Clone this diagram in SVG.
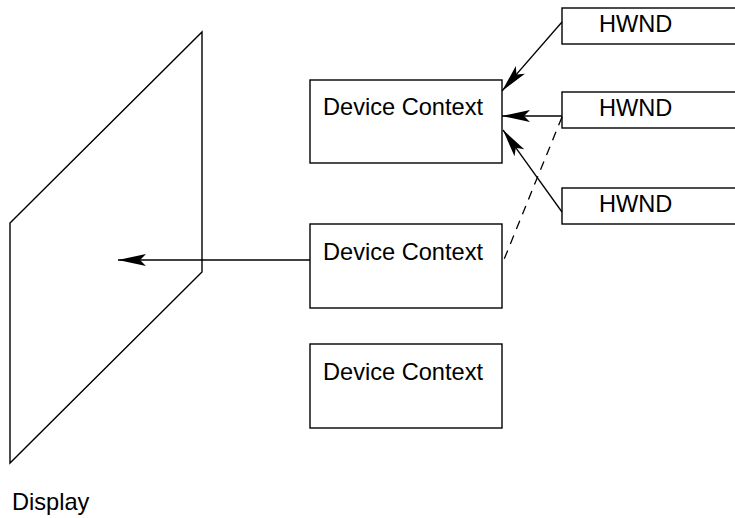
<svg xmlns="http://www.w3.org/2000/svg" width="735" height="518" viewBox="0 0 735 518">
  <style>
    .box { fill: #ffffff; stroke: #000000; stroke-width: 1.4; }
    .plane { fill: none; stroke: #000000; stroke-width: 1.4; }
    .label { font-family: "Liberation Sans", Arial, sans-serif; font-size: 23.6px; fill: #000000; }
    .wire { fill: none; stroke: #000000; stroke-width: 1.3; }
    .dashed { stroke-dasharray: 9 7; }
  </style>
  <defs>
    <marker id="arrow" viewBox="-30 -8 32 16" markerWidth="32" markerHeight="16" refX="0" refY="0" orient="auto" markerUnits="userSpaceOnUse">
      <path d="M0,0 L-28,-6 L-22,0 L-28,6 Z" fill="#000000"/>
    </marker>
  </defs>

  <!-- Display surface -->
  <g id="display">
    <polygon class="plane" points="10,223 202,32 202,272 10,463"/>
    <text class="label" x="12" y="510">Display</text>
  </g>

  <!-- Device contexts -->
  <g id="dc1">
    <rect class="box" x="310" y="80" width="192" height="83"/>
    <text class="label" x="323" y="115">Device Context</text>
  </g>
  <g id="dc2">
    <rect class="box" x="310" y="224" width="192" height="84"/>
    <text class="label" x="323" y="260">Device Context</text>
  </g>
  <g id="dc3">
    <rect class="box" x="310" y="344" width="192" height="84"/>
    <text class="label" x="323" y="380">Device Context</text>
  </g>

  <!-- Window handles -->
  <g id="hwnd1">
    <rect class="box" x="562" y="8" width="200" height="36"/>
    <text class="label" x="599" y="32">HWND</text>
  </g>
  <g id="hwnd2">
    <rect class="box" x="562" y="92" width="200" height="36"/>
    <text class="label" x="599" y="116">HWND</text>
  </g>
  <g id="hwnd3">
    <rect class="box" x="562" y="188" width="200" height="36"/>
    <text class="label" x="599" y="212">HWND</text>
  </g>

  <!-- Connectors -->
  <g id="connectors">
    <line class="wire" x1="562" y1="22" x2="502" y2="91" marker-end="url(#arrow)"/>
    <line class="wire" x1="562" y1="116" x2="502" y2="116" marker-end="url(#arrow)"/>
    <line class="wire" x1="562" y1="212" x2="503" y2="130" marker-end="url(#arrow)"/>
    <line class="wire dashed" x1="562" y1="117" x2="503" y2="262"/>
    <line class="wire" x1="310" y1="260" x2="118" y2="260" marker-end="url(#arrow)"/>
  </g>
</svg>
